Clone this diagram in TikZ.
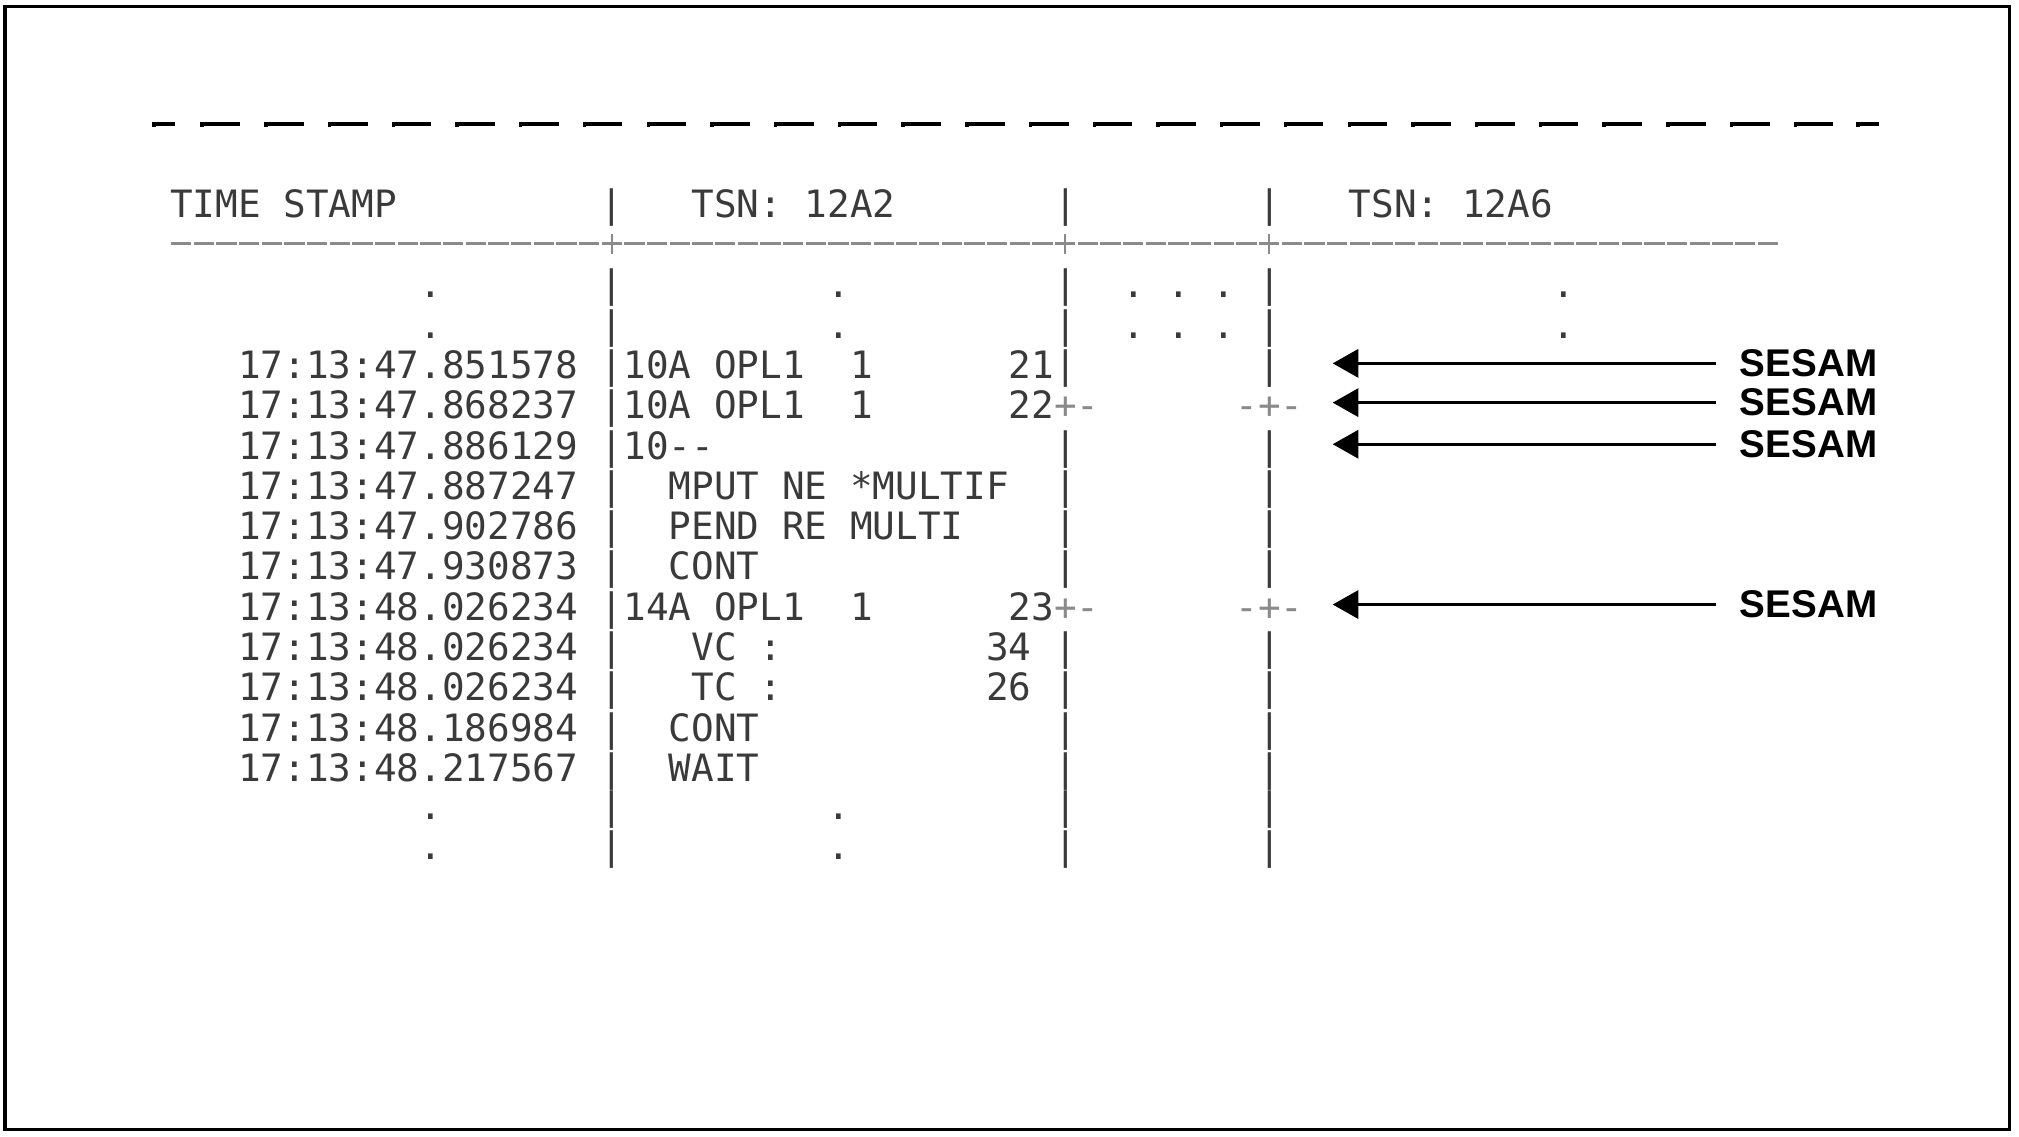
\documentclass[tikz,border=0pt]{standalone}
\usepackage{fontspec}
\usetikzlibrary{arrows.meta}
\newfontfamily\scrmono{DejaVu Sans Mono}
\newfontfamily\sesamfont{Liberation Sans}
\definecolor{txt}{HTML}{3A3A3A}
\definecolor{rulegray}{HTML}{8A8A8A}
\begin{document}
\begin{tikzpicture}[x=1pt,y=-1pt,
  row/.style={anchor=base west, inner sep=0pt, text=txt,
    font=\scrmono\fontsize{29.24pt}{31.3pt}\selectfont},
  sesam/.style={anchor=west, inner sep=0pt,
    font=\sesamfont\bfseries\fontsize{30pt}{30pt}\selectfont},
  sesamarrow/.style={draw=black, line width=2.2pt,
    -{Triangle[length=20pt,width=22pt]}},
  perf/.style={draw=black, line width=2.6pt},
  ruleline/.style={draw=rulegray, line width=2.2pt},
  frame/.style={draw=black, line width=2.7pt}]
\useasboundingbox (0,0) rectangle (1568,883);
\draw[frame] (3.9,5) rectangle (1560.7,877.2);
% perforated line
\draw[perf] (119.6,98.3) -- (119.6,96.3) -- (136,96.3);
\foreach \k in {0,...,25}{
  \draw[perf] ({157+\k*49.49},98.3) -- ({157+\k*49.49},96.3) -- ({186.5+\k*49.49},96.3);
}
\draw[perf] (1443,98.3) -- (1443,96.3) -- (1459.3,96.3);
% text rows
\node[row] (r0) at (132,168.7) {TIME~STAMP~~~~~~~~~|~~~TSN:~12A2~~~~~~~|~~~~~~~~|~~~TSN:~12A6};
% rule row
\draw[ruleline, dash pattern=on 15.8pt off 1.8pt] (132.9,189.3) -- (1380.7,189.3);
\foreach \c in {19,39,48}{
  \draw[draw=rulegray, line width=1.8pt] ({132+(\c+0.5)*17.6},182) -- ({132+(\c+0.5)*17.6},197);
}
\node[row] (r2) at (132,231.3) {~~~~~~~~~~~.~~~~~~~|~~~~~~~~~.~~~~~~~~~|~~.~.~.~|~~~~~~~~~~~~.};
\node[row] (r3) at (132,262.6) {~~~~~~~~~~~.~~~~~~~|~~~~~~~~~.~~~~~~~~~|~~.~.~.~|~~~~~~~~~~~~.};
\node[row] (r4) at (132,293.9) {~~~17:13:47.851578~|10A~OPL1~~1~~~~~~21|~~~~~~~~|};
\node[row] (r5) at (132,325.2) {~~~17:13:47.868237~|10A~OPL1~~1~~~~~~22{\color{rulegray}+-~~~~~~-+-}};
\node[row] (r6) at (132,356.5) {~~~17:13:47.886129~|10--~~~~~~~~~~~~~~~|~~~~~~~~|};
\node[row] (r7) at (132,387.8) {~~~17:13:47.887247~|~~MPUT~NE~*MULTIF~~|~~~~~~~~|};
\node[row] (r8) at (132,419.1) {~~~17:13:47.902786~|~~PEND~RE~MULTI~~~~|~~~~~~~~|};
\node[row] (r9) at (132,450.4) {~~~17:13:47.930873~|~~CONT~~~~~~~~~~~~~|~~~~~~~~|};
\node[row] (r10) at (132,481.7) {~~~17:13:48.026234~|14A~OPL1~~1~~~~~~23{\color{rulegray}+-~~~~~~-+-}};
\node[row] (r11) at (132,513.0) {~~~17:13:48.026234~|~~~VC~:~~~~~~~~~34~|~~~~~~~~|};
\node[row] (r12) at (132,544.3) {~~~17:13:48.026234~|~~~TC~:~~~~~~~~~26~|~~~~~~~~|};
\node[row] (r13) at (132,575.6) {~~~17:13:48.186984~|~~CONT~~~~~~~~~~~~~|~~~~~~~~|};
\node[row] (r14) at (132,606.9) {~~~17:13:48.217567~|~~WAIT~~~~~~~~~~~~~|~~~~~~~~|};
\node[row] (r15) at (132,636.5) {~~~~~~~~~~~.~~~~~~~|~~~~~~~~~.~~~~~~~~~|~~~~~~~~|};
\node[row] (r16) at (132,667.8) {~~~~~~~~~~~.~~~~~~~|~~~~~~~~~.~~~~~~~~~|~~~~~~~~|};
% SESAM labels and arrows
\node[sesam] (s1) at (1351,282.2) {SESAM};
\node[sesam] (s2) at (1351,312.7) {SESAM};
\node[sesam] (s3) at (1351,345.0) {SESAM};
\node[sesam] (s4) at (1351,469.5) {SESAM};
\coordinate (t1) at (1035,282.2);
\coordinate (t2) at (1035,312.7);
\coordinate (t3) at (1035,345.0);
\coordinate (t4) at (1035,469.5);
\draw[sesamarrow] ([xshift=-18pt]s1.west) -- (t1);
\draw[sesamarrow] ([xshift=-18pt]s2.west) -- (t2);
\draw[sesamarrow] ([xshift=-18pt]s3.west) -- (t3);
\draw[sesamarrow] ([xshift=-18pt]s4.west) -- (t4);
\end{tikzpicture}
\end{document}
